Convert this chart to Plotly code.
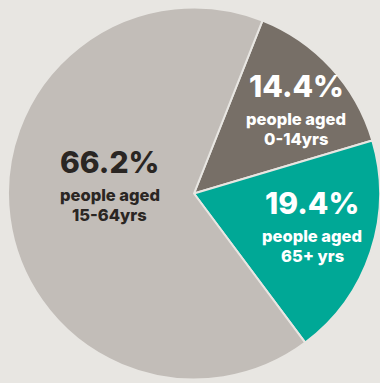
import plotly.graph_objects as go

# Population share by age group
groups = ["0-14yrs", "65+ yrs", "15-64yrs"]
shares = [14.4, 19.4, 66.2]
slice_colors = ["#776f67", "#00a896", "#c2bdb8"]
label_colors = ["#ffffff", "#ffffff", "#2a2623"]
# label centres in pixels (x, y of the percentage line)
label_px = [(296, 86), (312, 203), (110, 162)]

W, H = 380, 383
ML, MR, MT, MB = 8, 0, 7, 3
BG = "#e8e6e2"
FONT = "Inter"


def px_to_paper(px, py):
    return (px - ML) / (W - ML - MR), 1 - (py - MT) / (H - MT - MB)


fig = go.Figure(
    go.Pie(
        labels=groups,
        values=shares,
        sort=False,
        direction="clockwise",
        rotation=21.6,
        marker=dict(colors=slice_colors, line=dict(color=BG, width=2)),
        textinfo="none",
        hoverinfo="label+percent",
        showlegend=False,
    )
)

for g, v, c, (px, py) in zip(groups, shares, label_colors, label_px):
    lines = [
        (f"{v:.1f}%", 30, 800, 0),
        ("people aged", 16.5, 800, 33),
        (g, 16.5, 800, 53),
    ]
    for text, size, weight, dy in lines:
        x, y = px_to_paper(px, py + dy)
        fig.add_annotation(
            x=x, y=y, xref="paper", yref="paper",
            text=text, showarrow=False,
            font=dict(family=FONT, size=size, color=c, weight=weight),
            xanchor="center", yanchor="middle",
        )

fig.update_layout(
    width=W, height=H,
    margin=dict(l=ML, r=MR, t=MT, b=MB),
    paper_bgcolor=BG, plot_bgcolor=BG,
)

fig.write_html("out.html")
